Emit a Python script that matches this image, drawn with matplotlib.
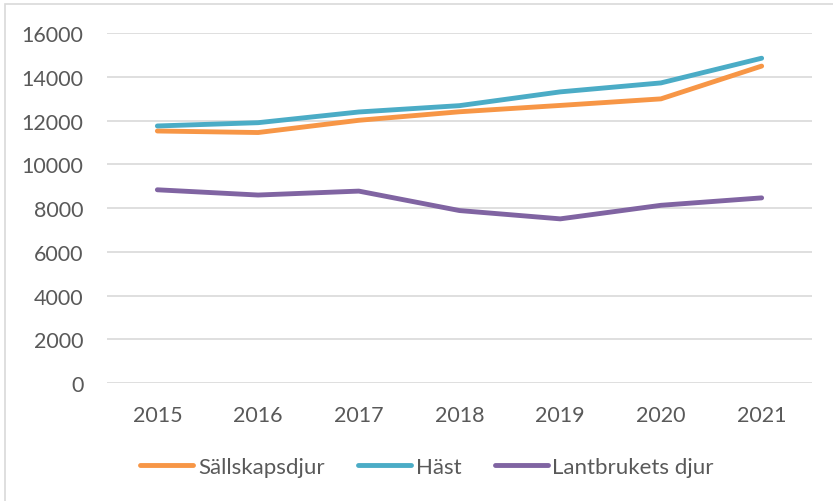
import matplotlib
matplotlib.use("Agg")
import matplotlib.pyplot as plt
from matplotlib.patches import Rectangle
from matplotlib.lines import Line2D

years = ["2015", "2016", "2017", "2018", "2019", "2020", "2021"]
sallskapsdjur = [11530, 11460, 12020, 12410, 12700, 13000, 14500]
hast = [11760, 11910, 12400, 12690, 13320, 13730, 14860]
lantbrukets = [8840, 8600, 8780, 7890, 7510, 8130, 8470]
yticks = [0, 2000, 4000, 6000, 8000, 10000, 12000, 14000, 16000]

series = [
    ("Sällskapsdjur", sallskapsdjur, "#F79646"),
    ("Häst", hast, "#4BACC6"),
    ("Lantbrukets djur", lantbrukets, "#8064A2"),
]

plt.rcParams['font.family'] = ['Lato', 'DejaVu Sans']
TXT = "#595959"

W, H = 833, 502
fig = plt.figure(figsize=(W / 100, H / 100), dpi=100)

# chart border
fig.patches.append(Rectangle((5 / W, -0.1), 1.2, 1 - 5 / H + 0.1, transform=fig.transFigure,
                             fill=False, edgecolor="#D9D9D9", linewidth=1.2))

left, right, top, bottom = 107, 812, 34.3, 384
ax = fig.add_axes([left / W, 1 - bottom / H, (right - left) / W, (bottom - top) / H])

x = list(range(len(years)))
for name, vals, col in series:
    ax.plot(x, vals, color=col, linewidth=3.5, solid_capstyle="round", solid_joinstyle="round",
            label=name, zorder=3)

ax.set_xlim(-0.5, len(years) - 0.5)
ax.set_ylim(0, 16000)
ax.set_yticks(yticks)
ax.set_yticklabels([str(v) for v in yticks])
ax.set_xticks(x)
ax.set_xticklabels(years)
ax.yaxis.grid(True, color="#D9D9D9", linewidth=1.2)
ax.set_axisbelow(True)
for s in ax.spines.values():
    s.set_visible(False)
ax.tick_params(axis="both", length=0, labelsize=15.5, colors=TXT)
ax.tick_params(axis="y", pad=17)
ax.tick_params(axis="x", pad=16)

handles = [Line2D([], [], color=c, linewidth=3.5, solid_capstyle="round") for _, _, c in series]
fig.legend(handles, [n for n, _, _ in series], loc="center", bbox_to_anchor=(427 / W, 1 - 468 / H),
           ncol=3, frameon=False, fontsize=16, labelcolor=TXT, handlelength=2.4,
           handletextpad=0.2, columnspacing=1.5)

fig.savefig("out.png", dpi=100)
